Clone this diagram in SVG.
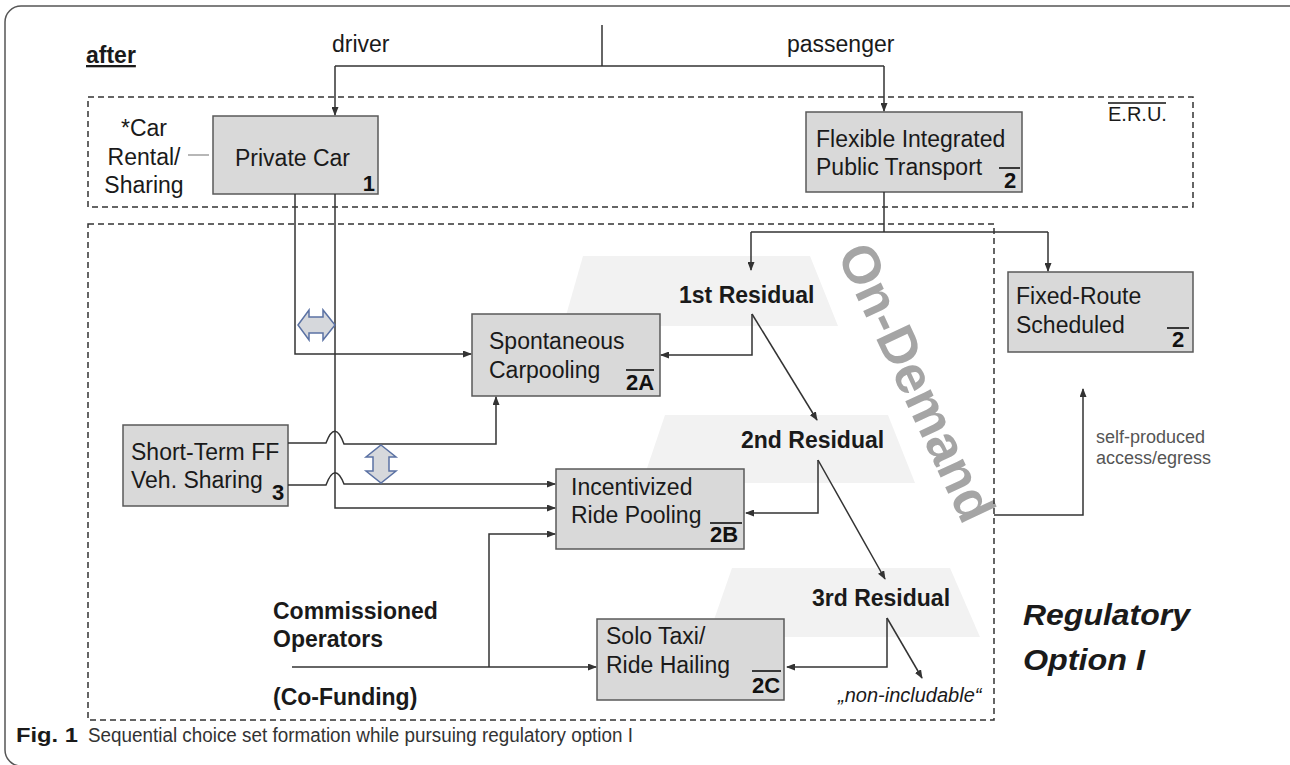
<svg xmlns="http://www.w3.org/2000/svg" width="1290" height="765" viewBox="0 0 1290 765">
<style>
.t{font-family:"Liberation Sans",Arial,sans-serif;font-size:23px;fill:#1a1a1a}
.b{font-weight:bold}
.num{font-family:"Liberation Sans",Arial,sans-serif;font-weight:bold;font-size:22px;fill:#111}
.box{fill:#d9d9d9;stroke:#595959;stroke-width:1.5}
.ln{fill:none;stroke:#333;stroke-width:1.5}
.ov{stroke:#111;stroke-width:1.6}
.dash{fill:none;stroke:#333;stroke-width:1.5;stroke-dasharray:6 4}
.trap{fill:#f2f2f2}
.dbl{fill:#d6d8dc;stroke:#5b72a4;stroke-width:1.5}
</style>
<defs>
<marker id="ah" markerUnits="userSpaceOnUse" markerWidth="9" markerHeight="7" refX="8" refY="3.5" orient="auto">
<path d="M0,0 L9,3.5 L0,7 z" fill="#333"/>
</marker>
</defs>
<rect x="0" y="0" width="1290" height="765" fill="#fff"/>
<rect x="5" y="6" width="1300" height="760" rx="16" fill="none" stroke="#555" stroke-width="1.5"/>

<g id="backgrounds">
<polygon class="trap" points="583,256 810,256 838,326 563,326"/>
<polygon class="trap" points="665,415 888,415 915,483 642,483"/>
<polygon class="trap" points="732,568 950,568 980,637 708,637"/>
<text x="900" y="390" text-anchor="middle" transform="rotate(65 900 390)" font-family="Liberation Sans, Arial, sans-serif" font-weight="bold" font-size="53" fill="#a5a5a5">On-Demand</text>
</g>

<g id="areas">
<rect class="dash" x="88" y="97" width="1105" height="110"/>
<rect class="dash" x="88" y="224" width="906" height="496"/>
</g>

<g id="labels">
<text class="t b" x="86" y="63" text-decoration="underline">after</text>
<text class="t" x="332" y="52">driver</text>
<text class="t" x="787" y="52">passenger</text>
<text class="t" x="1108" y="121" style="font-size:20px">E.R.U.</text>
<line class="ov" x1="1108" y1="103" x2="1166" y2="103" stroke-width="1.3"/>
<text class="t" text-anchor="middle" x="144" y="136">*Car</text>
<text class="t" text-anchor="middle" x="144" y="165">Rental/</text>
<text class="t" text-anchor="middle" x="144" y="193">Sharing</text>
<text class="t b" x="679" y="303">1st Residual</text>
<text class="t b" x="741" y="448">2nd Residual</text>
<text class="t b" x="812" y="606">3rd Residual</text>
<text class="t" x="838" y="702" style="font-style:italic;font-size:20px">„non-includable“</text>
<text class="t" x="1096" y="443" style="font-size:18px;fill:#555">self-produced</text>
<text class="t" x="1096" y="464" style="font-size:18px;fill:#555">access/egress</text>
<text class="t b" x="273" y="619">Commissioned</text>
<text class="t b" x="273" y="647">Operators</text>
<text class="t b" x="273" y="705">(Co-Funding)</text>
<text class="t b" x="1023" y="625" style="font-style:italic;font-size:29px" textLength="167" lengthAdjust="spacingAndGlyphs">Regulatory</text>
<text class="t b" x="1023" y="670" style="font-style:italic;font-size:29px" textLength="122" lengthAdjust="spacingAndGlyphs">Option I</text>
<text class="t b" x="16" y="742" style="font-size:20px" textLength="62" lengthAdjust="spacingAndGlyphs">Fig. 1</text>
<text class="t" x="88" y="742" style="font-size:20px;fill:#333" textLength="545" lengthAdjust="spacingAndGlyphs">Sequential choice set formation while pursuing regulatory option I</text>
</g>

<g id="node-private-car">
<rect class="box" x="213" y="116" width="165" height="78"/>
<text class="t" x="235" y="166">Private Car</text>
<text class="num" x="375" y="191" text-anchor="end">1</text>
</g>
<g id="node-flexible">
<rect class="box" x="806" y="112" width="216" height="80"/>
<text class="t" x="816" y="147">Flexible Integrated</text>
<text class="t" x="816" y="175">Public Transport</text>
<text class="num" x="1010" y="188" text-anchor="middle">2</text>
<line class="ov" x1="999" y1="168" x2="1020" y2="168"/>
</g>
<g id="node-fixed-route">
<rect class="box" x="1008" y="272" width="185" height="80"/>
<text class="t" x="1016" y="304">Fixed-Route</text>
<text class="t" x="1016" y="333">Scheduled</text>
<text class="num" x="1178" y="347" text-anchor="middle">2</text>
<line class="ov" x1="1167" y1="328" x2="1189" y2="328"/>
</g>
<g id="node-spontaneous">
<rect class="box" x="472" y="314" width="188" height="82"/>
<text class="t" x="489" y="349">Spontaneous</text>
<text class="t" x="489" y="378">Carpooling</text>
<text class="num" x="626" y="390">2A</text>
<line class="ov" x1="626" y1="370" x2="654" y2="370"/>
</g>
<g id="node-short-term">
<rect class="box" x="123" y="425" width="165" height="81"/>
<text class="t" x="131" y="460">Short-Term FF</text>
<text class="t" x="131" y="488">Veh. Sharing</text>
<text class="num" x="272" y="500">3</text>
</g>
<g id="node-incentivized">
<rect class="box" x="556" y="469" width="188" height="80"/>
<text class="t" x="571" y="495">Incentivized</text>
<text class="t" x="571" y="523">Ride Pooling</text>
<text class="num" x="710" y="542">2B</text>
<line class="ov" x1="710" y1="523" x2="742" y2="523"/>
</g>
<g id="node-solo-taxi">
<rect class="box" x="597" y="619" width="187" height="81"/>
<text class="t" x="606" y="644">Solo Taxi/</text>
<text class="t" x="606" y="673">Ride Hailing</text>
<text class="num" x="752" y="693">2C</text>
<line class="ov" x1="752" y1="671" x2="781" y2="671"/>
</g>

<g id="connectors">
<path class="ln" d="M602,25 V66"/>
<path class="ln" d="M335,66 H884"/>
<path class="ln" d="M335,66 V115" marker-end="url(#ah)"/>
<path class="ln" d="M884,66 V111" marker-end="url(#ah)"/>
<path d="M188,155 H209" stroke="#888" stroke-width="1.2"/>
<path class="ln" d="M884,192 V232"/>
<path class="ln" d="M751,232 H1048"/>
<path class="ln" d="M751,232 V270" marker-end="url(#ah)"/>
<path class="ln" d="M1048,232 V271" marker-end="url(#ah)"/>
<path class="ln" d="M295,194 V354 H471" marker-end="url(#ah)"/>
<path class="ln" d="M335,194 V508 H555" marker-end="url(#ah)"/>
<path class="ln" d="M288,443 H326 Q335,419 344,444 H496 V397" marker-end="url(#ah)"/>
<path class="ln" d="M288,485 H326 Q335,461 344,484 H555" marker-end="url(#ah)"/>
<path class="ln" d="M292,667 H596" marker-end="url(#ah)"/>
<path class="ln" d="M489,667 V534 H555" marker-end="url(#ah)"/>
<path class="ln" d="M752,314 V355 H661" marker-end="url(#ah)"/>
<path class="ln" d="M752,314 L817,420" marker-end="url(#ah)"/>
<path class="ln" d="M818,460 V513 H746" marker-end="url(#ah)"/>
<path class="ln" d="M818,460 L885,579" marker-end="url(#ah)"/>
<path class="ln" d="M887,618 V667 H787" marker-end="url(#ah)"/>
<path class="ln" d="M887,618 L922,678" marker-end="url(#ah)"/>
<path class="ln" d="M994,515 H1083 V389" marker-end="url(#ah)"/>
<polygon class="dbl" points="298,325 309,310 309,317 323,317 323,310 335,325 323,340 323,333 309,333 309,340"/>
<polygon class="dbl" points="381,445 396,457 389,457 389,471 396,471 381,483 366,471 373,471 373,457 366,457"/>
</g>
</svg>
